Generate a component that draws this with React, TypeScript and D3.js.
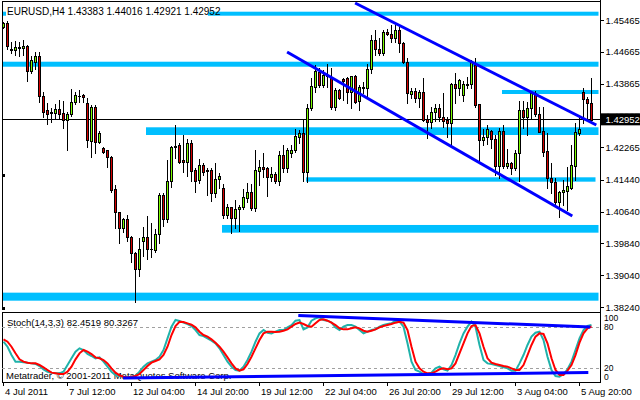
import React from 'react';
import * as d3 from 'd3';

// [open, high, low, close] per H4 bar
const candles: [number, number, number, number][] = [
[1.4528,1.4542,1.4526,1.4538],[1.4540,1.4544,1.4473,1.4480],[1.4472,1.4491,1.4463,1.4473],[1.4470,1.4494,1.4458,1.4479],
[1.4475,1.4491,1.4457,1.4479],[1.4476,1.4496,1.4458,1.4482],[1.4482,1.4484,1.4393,1.4419],[1.4419,1.4456,1.4413,1.4446],
[1.4442,1.4467,1.4423,1.4456],[1.4456,1.4467,1.4339,1.4356],[1.4356,1.4365,1.4303,1.4316],[1.4319,1.4337,1.4284,1.4311],
[1.4314,1.4324,1.4289,1.4313],[1.4312,1.4336,1.4299,1.4322],[1.4322,1.4346,1.4299,1.4311],[1.4312,1.4343,1.4274,1.4295],
[1.4295,1.4314,1.4218,1.4310],[1.4309,1.4373,1.4306,1.4341],[1.4341,1.4365,1.4335,1.4358],[1.4354,1.4370,1.4341,1.4356],
[1.4358,1.4361,1.4341,1.4353],[1.4337,1.4349,1.4228,1.4244],[1.4243,1.4333,1.4202,1.4328],[1.4327,1.4333,1.4211,1.4240],
[1.4239,1.4267,1.4236,1.4263],[1.4224,1.4227,1.4211,1.4215],[1.4218,1.4219,1.4177,1.4201],[1.4201,1.4205,1.4114,1.4119],
[1.4120,1.4131,1.4024,1.4062],[1.4062,1.4064,1.3984,1.4024],[1.4024,1.4047,1.4014,1.4045],[1.4045,1.4056,1.3990,1.4000],
[1.4000,1.4003,1.3938,1.3959],[1.3959,1.3963,1.3837,1.3919],[1.3919,1.3997,1.3903,1.3969],[1.3991,1.4025,1.3952,1.4000],
[1.4000,1.4053,1.3945,1.3969],[1.3970,1.4035,1.3949,1.3969],[1.3968,1.4020,1.3963,1.4007],[1.4007,1.4112,1.3984,1.4106],
[1.4106,1.4112,1.4029,1.4045],[1.4045,1.4194,1.4039,1.4141],[1.4141,1.4230,1.4127,1.4226],[1.4230,1.4282,1.4198,1.4227],
[1.4232,1.4238,1.4186,1.4190],[1.4194,1.4257,1.4165,1.4188],[1.4188,1.4246,1.4155,1.4236],[1.4238,1.4245,1.4140,1.4167],
[1.4169,1.4173,1.4113,1.4142],[1.4144,1.4197,1.4135,1.4182],[1.4182,1.4186,1.4156,1.4165],[1.4169,1.4173,1.4106,1.4166],
[1.4169,1.4173,1.4091,1.4110],[1.4110,1.4186,1.4102,1.4146],[1.4146,1.4161,1.4123,1.4154],[1.4124,1.4133,1.4047,1.4056],
[1.4056,1.4083,1.4047,1.4075],[1.4075,1.4076,1.4011,1.4047],[1.4047,1.4093,1.4024,1.4070],[1.4070,1.4081,1.4015,1.4076],
[1.4075,1.4121,1.4070,1.4102],[1.4099,1.4135,1.4089,1.4113],[1.4113,1.4133,1.4068,1.4074],[1.4074,1.4218,1.4066,1.4169],
[1.4167,1.4194,1.4132,1.4176],[1.4176,1.4211,1.4152,1.4171],[1.4173,1.4177,1.4104,1.4152],[1.4152,1.4176,1.4140,1.4159],
[1.4159,1.4165,1.4135,1.4140],[1.4140,1.4217,1.4132,1.4207],[1.4207,1.4232,1.4165,1.4173],[1.4173,1.4224,1.4165,1.4218],
[1.4212,1.4232,1.4202,1.4219],[1.4218,1.4272,1.4215,1.4254],[1.4253,1.4270,1.4236,1.4261],[1.4261,1.4295,1.4142,1.4165],
[1.4165,1.4334,1.4138,1.4324],[1.4326,1.4401,1.4320,1.4380],[1.4377,1.4433,1.4366,1.4418],[1.4416,1.4425,1.4379,1.4383],
[1.4383,1.4421,1.4379,1.4408],[1.4408,1.4435,1.4379,1.4406],[1.4400,1.4425,1.4323,1.4328],[1.4328,1.4375,1.4320,1.4370],
[1.4370,1.4373,1.4347,1.4349],[1.4398,1.4401,1.4345,1.4393],[1.4401,1.4404,1.4337,1.4365],[1.4365,1.4406,1.4324,1.4406],
[1.4406,1.4408,1.4338,1.4341],[1.4343,1.4383,1.4320,1.4379],[1.4379,1.4391,1.4362,1.4375],[1.4375,1.4435,1.4353,1.4422],
[1.4422,1.4509,1.4412,1.4496],[1.4496,1.4521,1.4458,1.4473],[1.4473,1.4500,1.4458,1.4464],[1.4464,1.4521,1.4458,1.4516],
[1.4516,1.4524,1.4509,1.4511],[1.4511,1.4534,1.4492,1.4500],[1.4500,1.4534,1.4492,1.4521],[1.4521,1.4530,1.4467,1.4488],
[1.4488,1.4490,1.4438,1.4442],[1.4442,1.4450,1.4337,1.4362],[1.4359,1.4375,1.4351,1.4368],[1.4368,1.4375,1.4341,1.4349],
[1.4349,1.4370,1.4328,1.4365],[1.4365,1.4400,1.4291,1.4295],[1.4297,1.4307,1.4250,1.4289],[1.4289,1.4328,1.4274,1.4316],
[1.4316,1.4334,1.4291,1.4324],[1.4324,1.4336,1.4291,1.4302],[1.4302,1.4362,1.4278,1.4291],[1.4295,1.4303,1.4253,1.4287],
[1.4287,1.4387,1.4232,1.4385],[1.4385,1.4412,1.4337,1.4376],[1.4376,1.4398,1.4358,1.4395],[1.4358,1.4393,1.4343,1.4385],
[1.4385,1.4404,1.4375,1.4384],[1.4385,1.4446,1.4376,1.4440],[1.4433,1.4450,1.4328,1.4333],[1.4334,1.4336,1.4190,1.4245],
[1.4245,1.4272,1.4232,1.4251],[1.4251,1.4282,1.4234,1.4272],[1.4268,1.4270,1.4225,1.4247],[1.4247,1.4257,1.4156,1.4180],
[1.4180,1.4274,1.4148,1.4267],[1.4267,1.4282,1.4173,1.4180],[1.4180,1.4222,1.4173,1.4186],[1.4186,1.4190,1.4158,1.4175],
[1.4175,1.4219,1.4169,1.4211],[1.4211,1.4343,1.4140,1.4319],[1.4319,1.4343,1.4274,1.4303],[1.4303,1.4341,1.4257,1.4326],
[1.4326,1.4368,1.4299,1.4362],[1.4362,1.4368,1.4306,1.4309],[1.4309,1.4328,1.4264,1.4265],[1.4267,1.4328,1.4205,1.4215],
[1.4217,1.4261,1.4124,1.4148],[1.4148,1.4186,1.4110,1.4138],[1.4138,1.4148,1.4081,1.4089],[1.4089,1.4116,1.4051,1.4113],
[1.4113,1.4144,1.4081,1.4119],[1.4117,1.4177,1.4068,1.4129],[1.4124,1.4232,1.4121,1.4182],[1.4180,1.4286,1.4144,1.4265],
[1.4261,1.4299,1.4257,1.4272],[1.4365,1.4375,1.4287,1.4347],[1.4347,1.4353,1.4299,1.4337],[1.43383,1.44016,1.42921,1.42952],
];

const priceTicks = [1.45465, 1.44665, 1.43865, 1.43065, 1.42265, 1.41440, 1.40640, 1.39840, 1.39040, 1.38240];
const lastPrice = 1.42952;

const timeLabels = ['4 Jul 2011', '7 Jul 12:00', '12 Jul 04:00', '14 Jul 20:00', '19 Jul 12:00', '22 Jul 04:00', '26 Jul 20:00', '29 Jul 12:00', '3 Aug 04:00', '5 Aug 20:00'];
const timeLabelBars = [0, 16, 32, 48, 64, 80, 96, 112, 128, 144];

const stochMain = [
58.1,50.8,38.6,28.9,28.9,27.9,27.4,26.4,25.5,22.5,
17.7,14.2,12.8,11.8,11.8,14.2,24.0,33.8,43.5,48.4,
46.0,40.1,37.2,33.8,35.2,28.9,21.6,14.2,9.4,7.9,
6.9,5.9,6.9,7.9,14.2,21.6,26.4,28.9,31.3,36.2,
46.0,63.0,80.1,89.9,88.4,86.0,84.0,81.1,75.2,67.9,
66.4,63.0,59.6,55.7,48.4,38.6,28.9,21.6,16.7,15.7,
21.6,31.3,43.5,58.1,70.3,75.2,71.3,70.3,72.8,75.2,
75.2,79.1,82.5,88.9,89.9,76.2,79.1,88.9,92.3,93.8,
89.9,88.9,86.0,79.1,75.2,80.1,82.5,82.5,80.1,75.2,
70.3,72.8,75.2,76.2,80.1,82.5,84.0,85.0,88.9,87.4,
80.1,55.7,28.9,16.7,14.2,10.8,10.8,12.8,19.1,21.6,
17.7,15.7,24.0,38.6,55.7,70.3,80.1,87.4,80.1,53.3,
31.3,26.4,25.5,24.0,22.5,20.6,19.1,15.7,15.7,26.4,
38.6,53.3,65.5,71.3,72.8,60.6,36.2,16.7,7.9,6.9,
10.8,17.7,28.9,46.0,63.0,75.2,81.1,82.45,
];
const stochSignal = [
61.6,58.1,50.8,41.1,32.3,28.9,27.4,26.4,26.4,24.0,
20.6,16.7,12.8,11.8,10.8,10.8,14.2,21.6,32.3,41.1,
46.0,43.5,40.1,35.2,33.8,31.3,26.4,19.1,12.8,8.9,
6.9,5.9,6.9,7.9,10.8,16.7,22.5,27.4,29.9,32.3,
38.6,50.8,67.9,81.1,87.4,86.9,85.0,83.0,79.1,72.8,
67.9,65.5,61.6,56.7,50.8,43.5,35.2,26.4,19.1,15.7,
17.7,25.5,36.2,48.4,60.6,70.3,72.8,72.8,72.3,72.8,
74.2,76.2,80.1,84.0,86.0,84.0,81.1,80.1,85.0,89.9,
90.8,88.9,86.0,82.5,77.7,76.2,76.2,77.7,79.1,77.7,
74.2,72.8,74.2,76.2,79.1,81.1,82.5,84.0,86.0,87.4,
86.0,75.2,50.8,28.9,19.1,14.2,11.8,11.8,14.2,17.7,
19.1,17.7,19.1,26.4,41.1,55.7,70.3,81.1,82.5,70.3,
50.8,33.8,27.4,25.5,24.0,22.5,21.6,19.1,16.7,16.7,
24.0,38.6,53.3,65.5,70.3,69.4,55.7,33.8,16.7,9.4,
9.4,15.7,24.0,38.6,56.7,70.3,77.7,80.33,
];
const stochLevelLabels = [100, 80, 20, 0];
const stochDashed = [80, 20];

// support / resistance zones (price ranges; start bar, null = from chart edge; end bar, null = to chart edge)
const zoneTop = [1.45674, 1.44415, 1.43703, 1.42764, 1.41505, 1.40305, 1.38601];
const zoneBottom = [1.45573, 1.44289, 1.43602, 1.42570, 1.41395, 1.40111, 1.38399];
const zoneFrom: (number | null)[] = [null, null, 125, 36, 76, 55, null];
const zoneTo: (number | null)[] = [null, null, null, null, 148, null, null];

// channel trend lines: [bar1, price1, bar2, price2]
const channelLines = [
  [87.9, 1.45893, 148.2, 1.42822],
  [70.9, 1.44659, 142.2, 1.40531],
];
// oscillator trend lines: [bar1, value1, bar2, value2]
const oscLines = [
  [73.7, 96.4, 146.7, 79.6],
  [29.9, 5.0, 146.2, 13.0],
];

const header = 'EURUSD,H4  1.43383 1.44016 1.42921 1.42952';
const stochTitle = 'Stoch(14,3,3) 82.4519 80.3267';
const copyright = 'Metatrader, \u00A9 2001-2011 MetaQuotes Software Corp.';

const FONT = '"Liberation Sans", Arial, sans-serif';
const BULL = '#7CFC00';
const BEAR = '#D40000';
const ZONE = '#00BFFF';
const TL = '#0000FF';

export default function App() {
  const left = 2, right = 600;
  const mainTop = 1.5, mainBottom = 310;
  const subTop = 312.5, subBottom = 382;

  const x = d3.scaleLinear().domain([0, 147]).range([3.5, 591.5]);
  const y = d3.scaleLinear().domain([1.38240, 1.45465]).range([307, 20]);
  const ys = d3.scaleLinear().domain([0, 100]).range([381.4, 313.1]);

  const line = d3.line<number>().x((_, i) => x(i)).y((d) => ys(d));
  const fs = 9.5;

  return (
    <svg width={640} height={400} style={{ position: 'absolute', left: 0, top: 0, background: '#fff' }} fontFamily={FONT}>
      <defs>
        <clipPath id="mainClip"><rect x={left} y={mainTop} width={right - left} height={mainBottom - mainTop} /></clipPath>
        <clipPath id="subClip"><rect x={left} y={subTop} width={right - left} height={subBottom - subTop} /></clipPath>
        <clipPath id="hiddenTick"><rect x={601} y={100} width={39} height={y(lastPrice) - 6.5 - 100} /></clipPath>
      </defs>
      <rect x={0} y={0} width={640} height={400} fill="#fff" />

      {/* main panel */}
      <g clipPath="url(#mainClip)">
        {zoneTop.map((t, k) => {
          const x0 = zoneFrom[k] == null ? 3 : x(zoneFrom[k] as number) - 1.5;
          const x1 = zoneTo[k] == null ? 598.5 : x(zoneTo[k] as number);
          const y0 = y(t), y1 = y(zoneBottom[k]);
          return <rect key={'z' + k} x={x0} y={y0} width={x1 - x0} height={y1 - y0} fill={ZONE} />;
        })}
        <line x1={left} x2={right} y1={Math.floor(y(lastPrice)) + 0.5} y2={Math.floor(y(lastPrice)) + 0.5} stroke="#000" strokeWidth={1} shapeRendering="crispEdges" />
        {candles.map((c, i) => {
          const [o, h, l, cl] = c;
          const cx = x(i);
          const yh = Math.round(y(h)), yl = Math.round(y(l));
          const t = Math.round(y(Math.max(o, cl))), b = Math.round(y(Math.min(o, cl)));
          const col = cl > o ? BULL : BEAR;
          return (
            <g key={'c' + i} shapeRendering="crispEdges">
              <rect x={cx - 0.5} y={yh} width={1} height={Math.max(1, yl - yh + 1)} fill="#000" />
              <rect x={cx - 1.5} y={t} width={3} height={Math.max(1, b - t + 1)} fill="#000" />
              {b - t - 1 > 0 && <rect x={cx - 0.5} y={t + 1} width={1} height={b - t - 1} fill={col} />}
            </g>
          );
        })}
        {channelLines.map((d, k) => (
          <line key={'t' + k} x1={x(d[0])} y1={y(d[1])} x2={x(d[2])} y2={y(d[3])} stroke={TL} strokeWidth={3} />
        ))}
      </g>
      {/* header label */}
      <rect x={6} y={3} width={202} height={16} fill="#fff" />
      <text x={7} y={15} fontSize={fs + 0.5} fill="#000">{header}</text>
      {/* left markers */}
      <rect x={2} y={174} width={3} height={3} fill="#000" />
      <rect x={2} y={307} width={3} height={3} fill="#000" />

      {/* main frame */}
      <line x1={left} x2={right} y1={mainTop} y2={mainTop} stroke="#000" shapeRendering="crispEdges" />
      <line x1={left + 0.5} x2={left + 0.5} y1={mainTop} y2={mainBottom} stroke="#000" shapeRendering="crispEdges" />
      <line x1={right + 0.5} x2={right + 0.5} y1={0} y2={subBottom} stroke="#000" shapeRendering="crispEdges" />

      {/* price axis */}
      {priceTicks.map((p, k) => {
        const hidden = Math.abs(y(p) - y(lastPrice)) < 8;
        return (
          <g key={'p' + k}>
            <line x1={right} x2={right + 4} y1={Math.round(y(p)) + 0.5} y2={Math.round(y(p)) + 0.5} stroke="#000" shapeRendering="crispEdges" />
            <text x={605.5} y={y(p) + 3.5} fontSize={fs} fill="#000" clipPath={hidden ? 'url(#hiddenTick)' : undefined}>{p.toFixed(5)}</text>
          </g>
        );
      })}
      <rect x={601} y={y(lastPrice) - 6.5} width={39} height={12} fill="#000" />
      <text x={605.5} y={y(lastPrice) + 3.5} fontSize={fs} fill="#fff">{lastPrice.toFixed(5)}</text>

      {/* sub panel */}
      <rect x={left + 0.5} y={subTop} width={right - left} height={subBottom - subTop} fill="none" stroke="#000" shapeRendering="crispEdges" />
      {stochDashed.map((v) => (
        <line key={'d' + v} x1={left} x2={right} y1={Math.round(ys(v)) + 0.5} y2={Math.round(ys(v)) + 0.5} stroke="#A0A0A0" strokeDasharray="3,3" shapeRendering="crispEdges" />
      ))}
      <text x={7} y={326} fontSize={fs} fill="#000">{stochTitle}</text>
      <text x={6} y={378.5} fontSize={fs} fill="#000">{copyright}</text>
      <g clipPath="url(#subClip)">
        <path d={line(stochMain) || ''} fill="none" stroke="#20B2AA" strokeWidth={2} />
        <path d={line(stochSignal) || ''} fill="none" stroke="#FF0000" strokeWidth={2} />
        {oscLines.map((d, k) => (
          <line key={'o' + k} x1={x(d[0])} y1={ys(d[1])} x2={x(d[2])} y2={ys(d[3])} stroke={TL} strokeWidth={3} />
        ))}
      </g>
      {stochLevelLabels.map((v) => {
        const yy = Math.min(Math.max(ys(v), 318), 377);
        return <text key={'s' + v} x={604} y={yy + 3} fontSize={8.5} fill="#000">{v}</text>;
      })}

      {/* time axis */}
      {timeLabels.map((t, k) => {
        const tx = Math.round(x(timeLabelBars[k])) - 0.5;
        return (
          <g key={'x' + k}>
            <line x1={tx} x2={tx} y1={subBottom} y2={subBottom + 4} stroke="#000" shapeRendering="crispEdges" />
            <text x={tx + 1.5} y={395} fontSize={fs} fill="#000">{t}</text>
          </g>
        );
      })}
    </svg>
  );
}
